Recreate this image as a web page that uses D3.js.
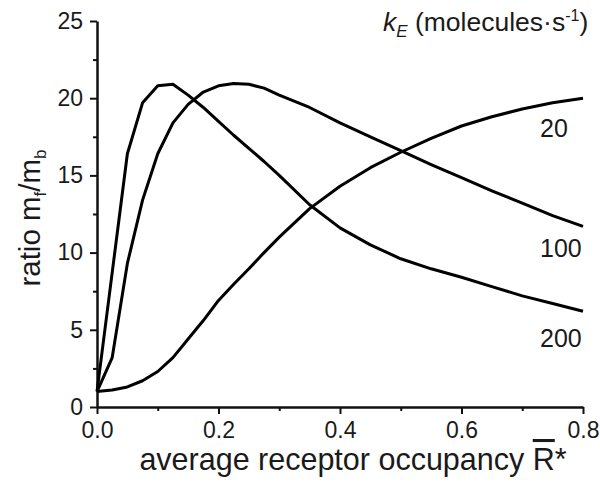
<!DOCTYPE html>
<html>
<head>
<meta charset="utf-8">
<script src="https://cdn.jsdelivr.net/npm/d3@7"></script>
<style>
  body { margin: 0; background: #fff; }
  svg text { font-family: "Liberation Sans", Arial, sans-serif; fill: #1a1a1a; }
</style>
</head>
<body>
<div id="chart"></div>
<script>
// average receptor occupancy (x)
const occupancy = [0, 0.025, 0.05, 0.075, 0.1, 0.125, 0.15, 0.175, 0.2, 0.225, 0.25, 0.275, 0.3,
  0.35, 0.4, 0.45, 0.5, 0.55, 0.6, 0.65, 0.7, 0.75, 0.8];

// ratio mf/mb for each kE
const ratioK20 = [1.0, 1.1, 1.3, 1.7, 2.3, 3.2, 4.4, 5.6, 6.9, 7.95, 8.95, 10.0, 11.0,
  12.85, 14.3, 15.5, 16.5, 17.4, 18.2, 18.8, 19.3, 19.7, 20.0];
const ratioK100 = [1.0, 3.2, 9.3, 13.4, 16.4, 18.4, 19.6, 20.4, 20.8, 20.95, 20.9, 20.65, 20.2,
  19.4, 18.4, 17.5, 16.6, 15.7, 14.85, 14.0, 13.2, 12.4, 11.7];
const ratioK200 = [1.0, 8.7, 16.4, 19.7, 20.8, 20.9, 20.2, 19.4, 18.5, 17.6, 16.75, 15.9, 15.0,
  13.1, 11.6, 10.5, 9.6, 8.95, 8.4, 7.8, 7.2, 6.7, 6.2];

const seriesNames = ['20', '100', '200'];
const xTicks = [0, 0.2, 0.4, 0.6, 0.8];
const yTicks = [0, 5, 10, 15, 20, 25];

const series = [ratioK20, ratioK100, ratioK200].map((vals, i) => ({
  name: seriesNames[i],
  values: vals.map((v, j) => ({x: occupancy[j], y: v}))
}));

const W = 600, H = 483;
const margin = {top: 21, right: 17, bottom: 76, left: 97};
const width = W - margin.left - margin.right;
const height = H - margin.top - margin.bottom;

const svg = d3.select('#chart').append('svg')
  .attr('width', W)
  .attr('height', H);

const g = svg.append('g')
  .attr('transform', `translate(${margin.left}, ${margin.top})`);

const xScale = d3.scaleLinear().domain([0, 0.8]).range([0, width]);
const yScale = d3.scaleLinear().domain([0, 25]).range([height, 0]);

// minor ticks first, then major ticks with labels
g.append('g')
  .attr('transform', `translate(0, ${height})`)
  .call(d3.axisBottom(xScale).tickValues(d3.range(0.1, 0.8, 0.2)).tickSize(4).tickFormat(''))
  .call(a => a.select('.domain').remove());
g.append('g')
  .call(d3.axisLeft(yScale).tickValues(d3.range(2.5, 25, 5)).tickSize(4).tickFormat(''))
  .call(a => a.select('.domain').remove());

const xAxis = g.append('g')
  .attr('transform', `translate(0, ${height})`)
  .call(d3.axisBottom(xScale).tickValues(xTicks).tickSize(7).tickSizeOuter(0).tickPadding(8)
    .tickFormat(d3.format('.1f')));
const yAxis = g.append('g')
  .call(d3.axisLeft(yScale).tickValues(yTicks).tickSize(7).tickSizeOuter(0).tickPadding(7)
    .tickFormat(d3.format('d')));

g.selectAll('.domain').attr('stroke', '#111').attr('stroke-width', 2.5);
g.selectAll('.tick line').attr('stroke', '#111').attr('stroke-width', 2);
xAxis.selectAll('text').attr('font-size', 23).attr('font-family', 'Liberation Sans, Arial').attr('fill', '#1a1a1a');
yAxis.selectAll('text').attr('font-size', 23).attr('font-family', 'Liberation Sans, Arial').attr('fill', '#1a1a1a');

const line = d3.line()
  .x(d => xScale(d.x))
  .y(d => yScale(d.y));

g.selectAll('.curve')
  .data(series)
  .join('path')
    .attr('class', 'curve')
    .attr('d', d => line(d.values))
    .attr('fill', 'none')
    .attr('stroke', '#000')
    .attr('stroke-width', 3)
    .attr('stroke-linejoin', 'round');

// curve labels below the right ends
const labelOffset = {'20': 39, '100': 31, '200': 36};
g.selectAll('.clabel')
  .data(series)
  .join('text')
    .attr('class', 'clabel')
    .attr('x', xScale(0.8) - 43)
    .attr('y', d => yScale(d.values[d.values.length - 1].y) + labelOffset[d.name])
    .attr('font-size', 25)
    .text(d => d.name);

// legend title
const leg = svg.append('text')
  .attr('x', 383)
  .attr('y', 31)
  .attr('font-size', 26.5);
leg.append('tspan').attr('font-style', 'italic').text('k');
leg.append('tspan').attr('font-style', 'italic').attr('font-size', 17).attr('dy', 6).text('E');
leg.append('tspan').attr('dy', -6).text(' (molecules\u00b7s');
leg.append('tspan').attr('font-size', 16).attr('dy', -10).text('-1');
leg.append('tspan').attr('dy', 10).text(')');

// x axis title
const xt = svg.append('text')
  .attr('x', 353)
  .attr('y', 470)
  .attr('text-anchor', 'middle')
  .attr('font-size', 30.5);
xt.append('tspan').text('average receptor occupancy ');
xt.append('tspan').style('text-decoration', 'overline').text('R');
xt.append('tspan').text('*');

// y axis title
const yt = svg.append('text')
  .attr('transform', 'translate(40, 218) rotate(-90)')
  .attr('text-anchor', 'middle')
  .attr('font-size', 29.5);
yt.append('tspan').text('ratio m');
yt.append('tspan').attr('font-size', 17).attr('dy', 6).text('f');
yt.append('tspan').attr('dy', -6).text('/m');
yt.append('tspan').attr('font-size', 17).attr('dy', 6).text('b');
</script>
</body>
</html>
